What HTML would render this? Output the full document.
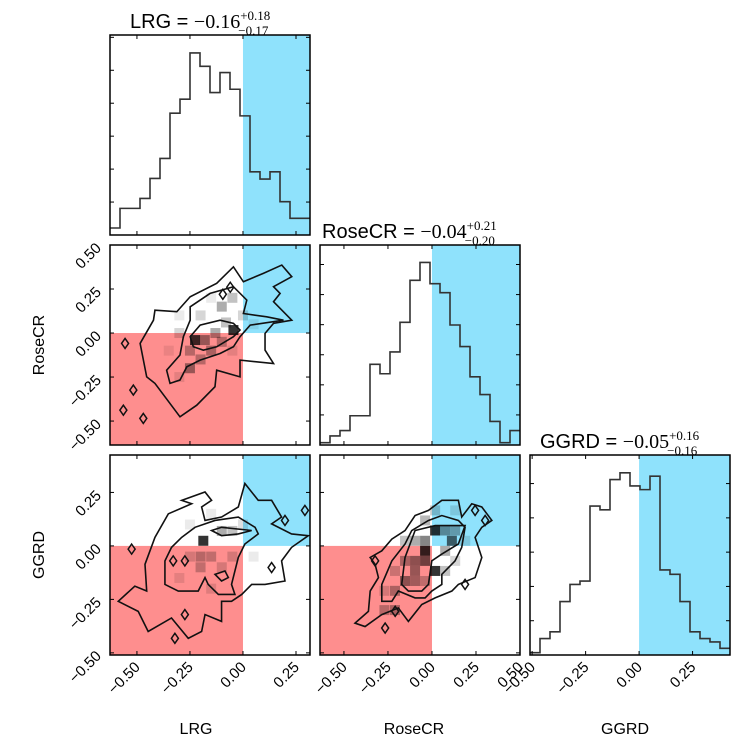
<!DOCTYPE html>
<html><head><meta charset="utf-8">
<style>
html,body{margin:0;padding:0;background:#fff;}
svg{display:block;}
text{font-family:"Liberation Sans",sans-serif;fill:#000;}
</style></head>
<body>
<svg id="chart" width="748" height="748" viewBox="0 0 748 748" xmlns="http://www.w3.org/2000/svg"></svg>
<script>
// ---- data ----
const lrgRange=[-0.627,0.316];
const roseRange=[-0.636,0.5];
const ggrdRange=[-0.51,0.425];
const lrgHist=[21,80,80,110,170,230,366,408,547,507,428,488,438,358,190,168,190,100,50,50];
const roseHist=[7,27,43,87,87,240,212,277,365,490,543,480,453,357,293,203,150,70,7,43];
const ggrdHist=[7,49,69,159,210,220,443,432,522,542,503,492,532,253,240,159,69,49,39,20];
const lrgTicks=[-0.5,-0.25,0,0.25];
const lrgTickLabels=["\u22120.50","\u22120.25","0.00","0.25"];
const roseTicks=[-0.5,-0.25,0,0.25,0.5];
const roseTickLabels=["\u22120.50","\u22120.25","0.00","0.25","0.50"];
const ggrdTicks=[-0.5,-0.25,0,0.25];
const ggrdTickLabels=["\u22120.50","\u22120.25","0.00","0.25"];
// contours panel A (LRG vs RoseCR)
const cA1=[[-0.415,0.130],[-0.312,0.121],[-0.249,0.206],[-0.124,0.282],[-0.045,0.376],[0.002,0.291],[0.096,0.339],[0.183,0.386],[0.230,0.320],[0.144,0.263],[0.175,0.225],[0.144,0.178],[0.230,0.073],[0.144,0.055],[0.104,-0.002],[0.104,-0.097],[0.144,-0.173],[-0.014,-0.154],[-0.014,-0.249],[-0.124,-0.211],[-0.132,-0.305],[-0.218,-0.410],[-0.297,-0.476],[-0.415,-0.286],[-0.454,-0.249],[-0.485,-0.059],[-0.422,0.073]];
const cA2=[[-0.249,0.149],[-0.155,0.225],[-0.045,0.263],[0.018,0.187],[0.002,0.111],[0.112,0.092],[0.191,0.073],[0.034,0.045],[-0.014,-0.021],[-0.045,-0.078],[-0.108,-0.116],[-0.202,-0.154],[-0.265,-0.192],[-0.297,-0.267],[-0.344,-0.286],[-0.360,-0.211],[-0.297,-0.125],[-0.281,-0.021],[-0.249,0.073]];
const cA3=[[-0.249,-0.021],[-0.202,0.045],[-0.108,0.073],[-0.045,0.055],[-0.014,0.017],[-0.045,-0.021],[-0.124,-0.078],[-0.187,-0.097],[-0.234,-0.078]];
const islandsA=[[-0.556,-0.059],[-0.517,-0.324],[-0.470,-0.485],[-0.564,-0.438],[-0.095,0.22],[-0.06,0.26]];
const cellsA=[[-0.045,0.017,1],[-0.226,-0.040,0.95],[-0.18,-0.04,0.5],[-0.13,0,0.4],[-0.1,0.15,0.4],[-0.05,0.2,0.3],[-0.2,0.1,0.2],[-0.25,-0.2,0.5],[-0.25,-0.1,0.35],[-0.15,-0.1,0.4],[-0.3,0,0.2],[-0.08,0.06,0.3],[0,0.1,0.2],[-0.2,-0.15,0.35],[-0.1,-0.05,0.35],[-0.3,0.1,0.1],[-0.15,0.2,0.1],[0.05,0.05,0.1],[-0.35,-0.1,0.1],[-0.3,-0.25,0.12],[-0.05,-0.1,0.12]];
// panel B (LRG vs GGRD)
const cB1=[[-0.289,0.213],[-0.179,0.252],[-0.148,0.213],[-0.195,0.182],[-0.179,0.119],[-0.101,0.135],[-0.022,0.182],[0.009,0.292],[0.072,0.213],[0.135,0.213],[0.182,0.135],[0.135,0.103],[0.229,0.056],[0.308,0.048],[0.229,-0.007],[0.182,-0.070],[0.198,-0.164],[0.104,-0.180],[0.041,-0.180],[-0.006,-0.227],[-0.054,-0.259],[-0.101,-0.259],[-0.101,-0.353],[-0.179,-0.321],[-0.195,-0.400],[-0.258,-0.432],[-0.337,-0.337],[-0.447,-0.400],[-0.494,-0.306],[-0.588,-0.259],[-0.510,-0.188],[-0.454,-0.211],[-0.462,-0.086],[-0.415,0.040],[-0.352,0.150],[-0.242,0.197]];
const cB2=[[-0.289,0.040],[-0.226,0.087],[-0.132,0.119],[-0.022,0.135],[0.057,0.087],[0.072,0.056],[0.009,0.009],[-0.022,-0.054],[-0.054,-0.180],[-0.038,-0.227],[-0.116,-0.227],[-0.164,-0.180],[-0.179,-0.148],[-0.211,-0.211],[-0.305,-0.211],[-0.368,-0.180],[-0.368,-0.070],[-0.337,-0.007]];
const cB3=[[-0.148,0.072],[-0.101,0.087],[0.041,0.072],[-0.022,0.056],[-0.101,0.048]];
const cB4=[[-0.132,-0.133],[-0.085,-0.117],[-0.069,-0.148],[-0.101,-0.164]];
const islandsB=[[0.198,0.119],[-0.274,-0.321],[-0.321,-0.432],[0.135,-0.101],[-0.329,-0.070],[-0.274,-0.070],[-0.525,-0.015],[0.292,0.166]];
const cellsB=[[-0.187,0.024,1],[-0.1,0.07,0.4],[-0.05,0.07,0.3],[-0.2,-0.05,0.35],[-0.15,-0.05,0.3],[-0.2,-0.1,0.3],[-0.1,-0.1,0.2],[-0.25,-0.05,0.2],[-0.05,-0.05,0.2],[0,0.1,0.15],[-0.25,0.1,0.1],[-0.3,-0.15,0.12],[0.05,-0.05,0.1],[-0.15,-0.2,0.15],[-0.15,0.15,0.1]];
// panel C (RoseCR vs GGRD)
const cC1=[[-0.437,-0.361],[-0.361,-0.306],[-0.351,-0.211],[-0.304,-0.148],[-0.323,-0.086],[-0.351,-0.054],[-0.285,-0.023],[-0.228,0.032],[-0.153,0.072],[-0.096,0.142],[-0.020,0.166],[0.056,0.213],[0.150,0.213],[0.169,0.135],[0.226,0.197],[0.283,0.182],[0.340,0.119],[0.283,0.087],[0.245,0.040],[0.283,-0.054],[0.245,-0.148],[0.150,-0.180],[0.113,-0.211],[0.018,-0.243],[-0.058,-0.274],[-0.134,-0.353],[-0.191,-0.290],[-0.285,-0.321],[-0.380,-0.377]];
const cC2=[[-0.285,-0.180],[-0.228,-0.070],[-0.153,0.009],[-0.115,0.072],[-0.020,0.119],[0.056,0.142],[0.150,0.119],[0.188,0.087],[0.169,-0.007],[0.131,-0.070],[0.056,-0.133],[0.056,-0.180],[-0.001,-0.211],[-0.039,-0.243],[-0.096,-0.243],[-0.191,-0.211],[-0.228,-0.259],[-0.285,-0.259]];
const cC3=[[-0.172,-0.180],[-0.153,-0.054],[-0.096,0.072],[0.018,0.095],[0.188,0.095],[0.150,0.009],[0.056,-0.038],[-0.001,-0.070],[-0.020,-0.180],[-0.058,-0.211],[-0.134,-0.211]];
const islandsC=[[-0.323,-0.070],[0.245,0.166],[0.302,0.119],[0.188,-0.180],[-0.209,-0.306],[-0.266,-0.384]];
const cellsC=[[0.018,0.072,1],[-0.039,-0.023,1],[0.018,-0.117,1],[0.113,0.024,0.75],[-0.039,0.024,0.6],[-0.096,-0.07,0.55],[-0.039,-0.07,0.7],[0.075,0.072,0.5],[-0.096,-0.117,0.5],[-0.153,-0.164,0.55],[-0.096,0.024,0.4],[0.075,-0.023,0.4],[0.132,0.072,0.4],[-0.153,-0.07,0.4],[-0.039,0.119,0.35],[0.018,0.166,0.25],[-0.21,-0.21,0.4],[-0.21,-0.3,0.4],[-0.27,-0.3,0.35],[-0.096,-0.164,0.45],[-0.153,0.024,0.3],[0.132,-0.07,0.2],[0.075,-0.117,0.3],[-0.039,-0.164,0.3],[-0.21,-0.117,0.25],[-0.27,-0.21,0.2],[0.132,0.166,0.15],[0.189,0.024,0.15]];

// ---- drawing ----
const NS="http://www.w3.org/2000/svg";
const svg=document.getElementById('chart');
const BLUE="#8fe2fc", RED="#fe8e8e";
function mk(tag,attrs,parent){const e=document.createElementNS(NS,tag);for(const k in attrs)e.setAttribute(k,attrs[k]);(parent||svg).appendChild(e);return e;}
function scale(d0,d1,p0,p1){return v=>p0+(v-d0)/(d1-d0)*(p1-p0);}
const cols=[[110,310],[320,520],[530,730]];
const rows=[[35,235],[245,445],[455,655]];

function frame(g,x0,x1,y0,y1,xt,xs,yt,ys){
  xt.forEach(t=>{const X=xs(t);mk('line',{x1:X,x2:X,y1:y1,y2:y1-4,stroke:'#000'},g);mk('line',{x1:X,x2:X,y1:y0,y2:y0+4,stroke:'#000'},g);});
  yt.forEach(t=>{const Y=ys(t);mk('line',{x1:x0,x2:x0+4,y1:Y,y2:Y,stroke:'#000'},g);mk('line',{x1:x1,x2:x1-4,y1:Y,y2:Y,stroke:'#000'},g);});
  const r=mk('rect',{x:x0,y:y0,width:x1-x0,height:y1-y0,fill:'none',stroke:'#000','stroke-width':1.5},g);
  
  
}

function hist(name,c,r,range,vals,ymax,ytStep){
  const [x0,x1]=cols[c],[y0,y1]=rows[r];
  const g=mk('g',{});
  
  
  const xs=scale(range[0],range[1],x0,x1), ys=scale(0,ymax,y1,y0);
  mk('rect',{x:xs(0),y:y0,width:x1-xs(0),height:y1-y0,fill:BLUE},g);
  const n=vals.length,bw=(range[1]-range[0])/n;
  let d='M'+x0+','+ys(vals[0]);
  vals.forEach((v,i)=>{const a=xs(range[0]+i*bw),b=xs(range[0]+(i+1)*bw);d+=' L'+a+','+ys(v)+' L'+b+','+ys(v);});
  const p=mk('path',{d:d,fill:'none',stroke:'#333','stroke-width':1.6},g);
  
  
  const yt=[];for(let k=ytStep;k<ymax;k+=ytStep)yt.push(k);
  const xt=[-0.5,-0.25,0,0.25,0.5].filter(t=>t>range[0]&&t<range[1]);
  frame(g,x0,x1,y0,y1,xt,xs,yt,ys);
}

function panel2d(name,c,r,xr,yr,cells,contours,islands){
  const [x0,x1]=cols[c],[y0,y1]=rows[r];
  const g=mk('g',{});
  
  
  const xs=scale(xr[0],xr[1],x0,x1), ys=scale(yr[0],yr[1],y1,y0);
  mk('rect',{x:xs(0),y:y0,width:x1-xs(0),height:ys(0)-y0,fill:BLUE},g);
  mk('rect',{x:x0,y:ys(0),width:xs(0)-x0,height:y1-ys(0),fill:RED},g);
  const cw=(xr[1]-xr[0])/20,ch=(yr[1]-yr[0])/20;
  cells.forEach(cc=>{
    const e=mk('rect',{x:xs(cc[0]-cw/2),y:ys(cc[1]+ch/2),width:xs(cw)-xs(0),height:ys(0)-ys(ch),fill:'#000','fill-opacity':(cc[2]*0.8).toFixed(2)},g);
    
    
  });
  contours.forEach((pts,i)=>{
    const p=mk('polygon',{points:pts.map(q=>xs(q[0])+','+ys(q[1])).join(' '),fill:'none',stroke:'#111','stroke-width':1.6},g);
    
    
  });
  islands.forEach(q=>{
    const X=xs(q[0]),Y=ys(q[1]);
    const p=mk('polygon',{points:X+','+(Y-5)+' '+(X+3.5)+','+Y+' '+X+','+(Y+5)+' '+(X-3.5)+','+Y,fill:'none',stroke:'#111','stroke-width':1.5},g);
    
    
  });
  frame(g,x0,x1,y0,y1,[-0.5,-0.25,0,0.25,0.5].filter(t=>t>xr[0]&&t<xr[1]),xs,[-0.5,-0.25,0,0.25,0.5].filter(t=>t>yr[0]&&t<yr[1]),ys);
}

hist('lrg',0,0,lrgRange,lrgHist,601,99);
hist('rosecr',1,1,roseRange,roseHist,595,89.5);
hist('ggrd',2,2,ggrdRange,ggrdHist,595,102);
panel2d('lrg-rosecr',0,1,lrgRange,roseRange,cellsA,[cA1,cA2,cA3],islandsA);
panel2d('lrg-ggrd',0,2,lrgRange,ggrdRange,cellsB,[cB1,cB2,cB3,cB4],islandsB);
panel2d('rosecr-ggrd',1,2,roseRange,ggrdRange,cellsC,[cC1,cC2,cC3],islandsC);

function xLabels(name,c,range,ticks,labels){
  const xs=scale(range[0],range[1],cols[c][0],cols[c][1]);
  ticks.forEach((t,i)=>{const X=xs(t)+4,Y=668;
    const e=mk('text',{x:X,y:Y,'font-size':15,'text-anchor':'end',transform:'rotate(-45 '+X+' '+Y+')'});
    e.textContent=labels[i];
    
    });
}
function yLabels(name,r,range,ticks,labels){
  const ys=scale(range[0],range[1],rows[r][1],rows[r][0]);
  ticks.forEach((t,i)=>{const X=102,Y=ys(t)+4;
    const e=mk('text',{x:X,y:Y,'font-size':15,'text-anchor':'end',transform:'rotate(-45 '+X+' '+Y+')'});
    e.textContent=labels[i];
    
    });
}
xLabels('lrg',0,lrgRange,lrgTicks,lrgTickLabels);
xLabels('rosecr',1,roseRange,roseTicks,roseTickLabels);
xLabels('ggrd',2,ggrdRange,ggrdTicks,ggrdTickLabels);
yLabels('rosecr',1,roseRange,roseTicks,roseTickLabels);
yLabels('ggrd',2,ggrdRange,ggrdTicks,ggrdTickLabels);
</script>
<div style="position:absolute;left:0;top:0;width:748px;height:748px;pointer-events:none;">
<svg width="748" height="748" xmlns="http://www.w3.org/2000/svg" style="position:absolute;left:0;top:0">
  <text x="196" y="734" font-size="16" text-anchor="middle" style="font-family:'Liberation Sans',sans-serif">LRG</text>
  <text x="414" y="734" font-size="16" text-anchor="middle" style="font-family:'Liberation Sans',sans-serif">RoseCR</text>
  <text x="625" y="734" font-size="16" text-anchor="middle" style="font-family:'Liberation Sans',sans-serif">GGRD</text>
  <text x="44" y="345" font-size="16" text-anchor="middle" transform="rotate(-90 44 345)" style="font-family:'Liberation Sans',sans-serif">RoseCR</text>
  <text x="44" y="555" font-size="16" text-anchor="middle" transform="rotate(-90 44 555)" style="font-family:'Liberation Sans',sans-serif">GGRD</text>
  <text x="130" y="28" font-size="20"><tspan style="font-family:'Liberation Sans',sans-serif">LRG = </tspan><tspan style="font-family:'Liberation Serif',serif">−0.16</tspan><tspan dy="-8" font-size="13" style="font-family:'Liberation Serif',serif">+0.18</tspan><tspan dx="-32" dy="15" font-size="13" style="font-family:'Liberation Serif',serif">−0.17</tspan></text>
  <text x="322" y="238" font-size="20"><tspan style="font-family:'Liberation Sans',sans-serif">RoseCR = </tspan><tspan style="font-family:'Liberation Serif',serif">−0.04</tspan><tspan dy="-8" font-size="13" style="font-family:'Liberation Serif',serif">+0.21</tspan><tspan dx="-32" dy="15" font-size="13" style="font-family:'Liberation Serif',serif">−0.20</tspan></text>
  <text x="540" y="448" font-size="20"><tspan style="font-family:'Liberation Sans',sans-serif">GGRD = </tspan><tspan style="font-family:'Liberation Serif',serif">−0.05</tspan><tspan dy="-8" font-size="13" style="font-family:'Liberation Serif',serif">+0.16</tspan><tspan dx="-32" dy="15" font-size="13" style="font-family:'Liberation Serif',serif">−0.16</tspan></text>
</svg>
</div>
</body></html>
